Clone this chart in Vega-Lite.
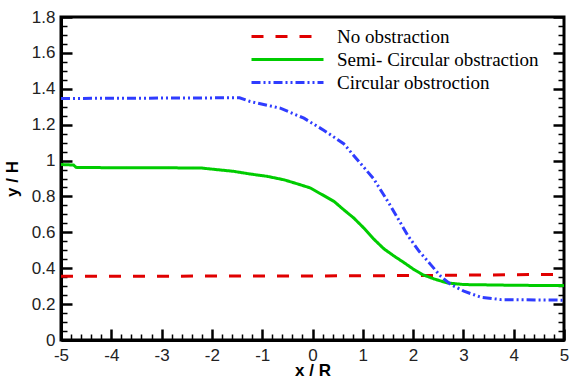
{
  "$schema": "https://vega.github.io/schema/vega-lite/v6.json",
  "width": 503,
  "height": 323,
  "autosize": "none",
  "padding": {"left": 61, "top": 17, "right": 5, "bottom": 38},
  "background": "white",
  "config": {
    "view": {"stroke": "black", "strokeWidth": 3},
    "axis": {"grid": false, "labelFont": "Liberation Sans", "titleFont": "Liberation Sans", "labelFontSize": 17, "titleFontSize": 17, "titleFontWeight": "bold", "labelColor": "#222222", "titleColor": "black", "domainColor": "black", "domainWidth": 3, "tickColor": "black"}
  },
  "data": {"values": [
    {"series": "No obstraction", "x": -5, "y": 0.355},
    {"series": "No obstraction", "x": 0, "y": 0.357},
    {"series": "No obstraction", "x": 2.5, "y": 0.36},
    {"series": "No obstraction", "x": 4, "y": 0.364},
    {"series": "No obstraction", "x": 5, "y": 0.366},
    {"series": "Semi- Circular obstraction", "x": -5, "y": 0.978},
    {"series": "Semi- Circular obstraction", "x": -4.75, "y": 0.975},
    {"series": "Semi- Circular obstraction", "x": -4.7, "y": 0.962},
    {"series": "Semi- Circular obstraction", "x": -4, "y": 0.96},
    {"series": "Semi- Circular obstraction", "x": -3, "y": 0.96},
    {"series": "Semi- Circular obstraction", "x": -2.2, "y": 0.958},
    {"series": "Semi- Circular obstraction", "x": -1.57, "y": 0.94},
    {"series": "Semi- Circular obstraction", "x": -1.24, "y": 0.925},
    {"series": "Semi- Circular obstraction", "x": -0.9, "y": 0.912},
    {"series": "Semi- Circular obstraction", "x": -0.57, "y": 0.893},
    {"series": "Semi- Circular obstraction", "x": -0.24, "y": 0.865},
    {"series": "Semi- Circular obstraction", "x": -0.04, "y": 0.847},
    {"series": "Semi- Circular obstraction", "x": 0.16, "y": 0.815},
    {"series": "Semi- Circular obstraction", "x": 0.43, "y": 0.772},
    {"series": "Semi- Circular obstraction", "x": 0.62, "y": 0.726},
    {"series": "Semi- Circular obstraction", "x": 0.82, "y": 0.68},
    {"series": "Semi- Circular obstraction", "x": 1.02, "y": 0.624},
    {"series": "Semi- Circular obstraction", "x": 1.22, "y": 0.562},
    {"series": "Semi- Circular obstraction", "x": 1.42, "y": 0.508},
    {"series": "Semi- Circular obstraction", "x": 1.62, "y": 0.468},
    {"series": "Semi- Circular obstraction", "x": 1.8, "y": 0.435},
    {"series": "Semi- Circular obstraction", "x": 2.02, "y": 0.392},
    {"series": "Semi- Circular obstraction", "x": 2.19, "y": 0.364},
    {"series": "Semi- Circular obstraction", "x": 2.42, "y": 0.34},
    {"series": "Semi- Circular obstraction", "x": 2.68, "y": 0.318},
    {"series": "Semi- Circular obstraction", "x": 3.01, "y": 0.309},
    {"series": "Semi- Circular obstraction", "x": 4, "y": 0.305},
    {"series": "Semi- Circular obstraction", "x": 5, "y": 0.303},
    {"series": "Circular obstroction", "x": -5, "y": 1.346},
    {"series": "Circular obstroction", "x": -3, "y": 1.348},
    {"series": "Circular obstroction", "x": -1.45, "y": 1.35},
    {"series": "Circular obstroction", "x": -1.24, "y": 1.329},
    {"series": "Circular obstroction", "x": -0.64, "y": 1.292},
    {"series": "Circular obstroction", "x": -0.17, "y": 1.236},
    {"series": "Circular obstroction", "x": 0.23, "y": 1.168},
    {"series": "Circular obstroction", "x": 0.62, "y": 1.094},
    {"series": "Circular obstroction", "x": 0.96, "y": 0.982},
    {"series": "Circular obstroction", "x": 1.22, "y": 0.897},
    {"series": "Circular obstroction", "x": 1.55, "y": 0.748},
    {"series": "Circular obstroction", "x": 1.72, "y": 0.667},
    {"series": "Circular obstroction", "x": 1.9, "y": 0.58},
    {"series": "Circular obstroction", "x": 2.12, "y": 0.494},
    {"series": "Circular obstroction", "x": 2.35, "y": 0.42},
    {"series": "Circular obstroction", "x": 2.55, "y": 0.355},
    {"series": "Circular obstroction", "x": 2.75, "y": 0.309},
    {"series": "Circular obstroction", "x": 3.01, "y": 0.272},
    {"series": "Circular obstroction", "x": 3.35, "y": 0.238},
    {"series": "Circular obstroction", "x": 3.75, "y": 0.225},
    {"series": "Circular obstroction", "x": 5, "y": 0.222}
  ]},
  "resolve": {"axis": {"x": "independent", "y": "independent"}},
  "layer": [
    {
      "mark": {"type": "line", "strokeWidth": 3, "clip": true},
      "encoding": {
        "x": {"field": "x", "type": "quantitative", "scale": {"domain": [-5, 5], "nice": false, "zero": false},
          "axis": {"orient": "bottom", "title": "x / R", "values": [-5, -4, -3, -2, -1, 0, 1, 2, 3, 4, 5], "labelExpr": "toString(datum.value)", "ticks": true, "tickSize": -11, "tickWidth": 2.5, "labelPadding": 18, "titlePadding": -1, "labelFlush": false, "labelOverlap": false}},
        "y": {"field": "y", "type": "quantitative", "scale": {"domain": [0, 1.8], "nice": false, "zero": false},
          "axis": {"orient": "left", "title": "y / H", "values": [0, 0.2, 0.4, 0.6, 0.8, 1, 1.2, 1.4, 1.6, 1.8], "labelExpr": "toString(datum.value)", "ticks": true, "tickSize": -11, "tickWidth": 2.5, "labelPadding": 17, "titlePadding": 10, "labelFlush": false, "labelOverlap": false}},
        "color": {"field": "series", "type": "nominal", "scale": {"domain": ["No obstraction", "Semi- Circular obstraction", "Circular obstroction"], "range": ["#e00000", "#00cc00", "#2f3cff"]},
          "legend": {"title": null, "orient": "none", "legendX": 189, "legendY": 9, "padding": 0, "labelFont": "Liberation Serif", "labelFontSize": 19, "labelColor": "black", "labelLimit": 0, "symbolType": "M-1,0H7", "symbolSize": 324, "symbolStrokeWidth": 3, "labelOffset": 66, "rowPadding": 2}},
        "strokeDash": {"field": "series", "type": "nominal", "scale": {"domain": ["No obstraction", "Semi- Circular obstraction", "Circular obstroction"], "range": [[12, 12], [1, 0], [9, 3, 2, 3, 2, 3]]},
          "legend": {"title": null, "orient": "none", "legendX": 189, "legendY": 9, "padding": 0, "labelFont": "Liberation Serif", "labelFontSize": 19, "labelColor": "black", "labelLimit": 0, "symbolType": "M-1,0H7", "symbolSize": 324, "symbolStrokeWidth": 3, "labelOffset": 66, "rowPadding": 2}}
      }
    },
    {
      "mark": {"type": "line", "strokeOpacity": 0},
      "encoding": {
        "x": {"field": "x", "type": "quantitative", "axis": {"orient": "bottom", "title": null, "labels": false, "domain": false, "values": [-4.8, -4.6, -4.4, -4.2, -3.8, -3.6, -3.4, -3.2, -2.8, -2.6, -2.4, -2.2, -1.8, -1.6, -1.4, -1.2, -0.8, -0.6, -0.4, -0.2, 0.2, 0.4, 0.6, 0.8, 1.2, 1.4, 1.6, 1.8, 2.2, 2.4, 2.6, 2.8, 3.2, 3.4, 3.6, 3.8, 4.2, 4.4, 4.6, 4.8], "ticks": true, "offset": -6, "tickSize": 6, "tickWidth": 1.5}},
        "y": {"field": "y", "type": "quantitative", "axis": {"orient": "left", "title": null, "labels": false, "domain": false, "values": [0.05, 0.1, 0.15, 0.25, 0.3, 0.35, 0.45, 0.5, 0.55, 0.65, 0.7, 0.75, 0.85, 0.9, 0.95, 1.05, 1.1, 1.15, 1.25, 1.3, 1.35, 1.45, 1.5, 1.55, 1.65, 1.7, 1.75], "ticks": true, "offset": -6, "tickSize": 6, "tickWidth": 1.5}},
        "detail": {"field": "series", "type": "nominal"}
      }
    },
    {
      "mark": {"type": "line", "strokeOpacity": 0},
      "encoding": {
        "x": {"field": "x", "type": "quantitative", "axis": null},
        "y": {"field": "y", "type": "quantitative", "axis": {"orient": "right", "title": null, "labels": false, "domain": false, "values": [0, 0.2, 0.4, 0.6, 0.8, 1, 1.2, 1.4, 1.6, 1.8], "ticks": true, "offset": -11, "tickSize": 11, "tickWidth": 2.5}},
        "detail": {"field": "series", "type": "nominal"}
      }
    },
    {
      "mark": {"type": "line", "strokeOpacity": 0},
      "encoding": {
        "x": {"field": "x", "type": "quantitative", "axis": null},
        "y": {"field": "y", "type": "quantitative", "axis": {"orient": "right", "title": null, "labels": false, "domain": false, "values": [0.05, 0.1, 0.15, 0.25, 0.3, 0.35, 0.45, 0.5, 0.55, 0.65, 0.7, 0.75, 0.85, 0.9, 0.95, 1.05, 1.1, 1.15, 1.25, 1.3, 1.35, 1.45, 1.5, 1.55, 1.65, 1.7, 1.75], "ticks": true, "offset": -6, "tickSize": 6, "tickWidth": 1.5}},
        "detail": {"field": "series", "type": "nominal"}
      }
    }
  ]
}
